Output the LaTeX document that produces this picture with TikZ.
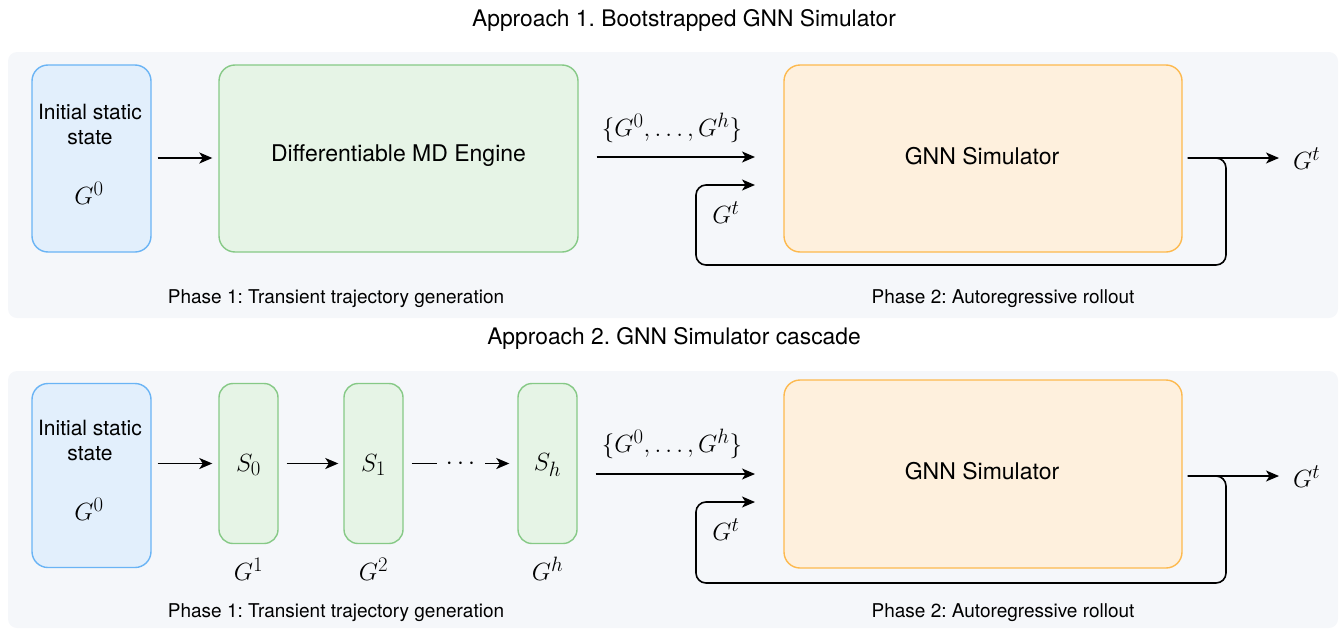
\documentclass[tikz,border=0pt]{standalone}
\usepackage{fontspec}
\setmainfont{TeX Gyre Heros}
\frenchspacing
\usetikzlibrary{arrows.meta,calc}
\definecolor{panelgray}{HTML}{F5F7FA}
\definecolor{bfill}{HTML}{E2EFFC}
\definecolor{bdraw}{HTML}{6AB4F5}
\definecolor{gfill}{HTML}{E6F4E6}
\definecolor{gdraw}{HTML}{86C986}
\definecolor{ofill}{HTML}{FEF0DD}
\definecolor{odraw}{HTML}{FDB94E}
\tikzset{
  panelbox/.style={fill=panelgray, rounded corners=9pt},
  basebox/.style={line width=1.4pt, rounded corners=16pt, inner sep=0pt},
  bluebox/.style={basebox, draw=bdraw, fill=bfill},
  greenbox/.style={basebox, draw=gdraw, fill=gfill},
  orangebox/.style={basebox, draw=odraw, fill=ofill},
  arr/.style={line width=1.6pt, -{Stealth[length=13pt,width=11pt,inset=3.5pt]}},
  loopline/.style={line width=1.6pt, rounded corners=10pt, -{Stealth[length=13pt,width=11pt,inset=3.5pt]}},
  titletxt/.style={font=\fontsize{22.8}{26}\selectfont},
  phasetxt/.style={font=\fontsize{19}{23}\selectfont},
  boxtxt/.style={font=\fontsize{23}{27}\selectfont, align=center},
  inittxt/.style={font=\fontsize{21}{25}\selectfont, align=center},
  mathtxt/.style={font=\fontsize{30.5}{33}\selectfont, inner sep=0pt},
}
\begin{document}
\begin{tikzpicture}[x=1pt,y=-1pt]
\useasboundingbox (0,0) rectangle (1340,629);
% panels
\fill[panelbox] (8,52) rectangle (1338,318);
\fill[panelbox] (8,371) rectangle (1338,628);
% titles
\node[titletxt] (t1) at (684,20) {Approach 1. Bootstrapped GNN Simulator};
\node[titletxt] (t2) at (674,338) {Approach 2. GNN Simulator cascade};

% ---------- Approach 1 ----------
\node[bluebox, minimum width=119pt, minimum height=187pt] (b1) at (91.5,158.5) {};
\node[inittxt] (b1t) at (90,124.5) {Initial static\\state};
\node[mathtxt] (b1g) at (89,193) {$G^0$};
\node[greenbox, minimum width=359pt, minimum height=187pt] (md) at (398.5,158.5) {};
\node[boxtxt] (mdt) at (398.5,156) {Differentiable MD Engine};
\node[orangebox, minimum width=398pt, minimum height=187pt] (g1) at (983,158.5) {};
\node[boxtxt] (g1t) at (982,156) {GNN Simulator};
\coordinate (in1) at (755,157);
\coordinate (fb1) at (755,185);
\coordinate (out1) at (1279,158);
\node[mathtxt, anchor=west] (o1) at (1293,159) {$G^t$};
\node[mathtxt] (set1) at (672,128) {$\{G^0,\ldots,G^h\}$};
\node[mathtxt] (gt1) at (726,213) {$G^t$};
\draw[arr] ([xshift=6pt]b1.east |- 0,158) -- ([xshift=-6pt]md.west |- 0,158);
\draw[arr] ([xshift=18pt]md.east |- in1) -- (in1);
\draw[arr] ([xshift=5pt]g1.east |- out1) -- (out1);
\draw[loopline] ([xshift=5pt]g1.east |- out1) -- (1226,158) -- (1226,265) -- (696,265) -- (696,185) -- (fb1);

% ---------- Approach 2 ----------
\node[bluebox, minimum width=119pt, minimum height=184pt] (b2) at (91.5,475.5) {};
\node[inittxt] (b2t) at (90,440.5) {Initial static\\state};
\node[mathtxt] (b2g) at (89,509) {$G^0$};
\node[greenbox, minimum width=59pt, minimum height=160pt, rounded corners=14pt] (s0) at (248.5,463.5) {};
\node[greenbox, minimum width=59pt, minimum height=160pt, rounded corners=14pt] (s1) at (373.5,463.5) {};
\node[greenbox, minimum width=59pt, minimum height=160pt, rounded corners=14pt] (sh) at (547.5,463.5) {};
\node[mathtxt] (s0t) at (248.5,465) {$S_0$};
\node[mathtxt] (s1t) at (373.5,465) {$S_1$};
\node[mathtxt] (sht) at (547.5,465) {$S_h$};
\node[mathtxt] (g1l) at (248.5,569) {$G^1$};
\node[mathtxt] (g2l) at (373.5,569) {$G^2$};
\node[mathtxt] (ghl) at (547.5,569) {$G^h$};
\node[orangebox, minimum width=398pt, minimum height=188pt] (g2) at (983,474) {};
\node[boxtxt] (g2t) at (982,471) {GNN Simulator};
\coordinate (in2) at (755,474);
\coordinate (fb2) at (755,502);
\coordinate (out2) at (1279,476);
\node[mathtxt, anchor=west] (o2) at (1293,477) {$G^t$};
\node[mathtxt] (set2) at (672,444) {$\{G^0,\ldots,G^h\}$};
\node[mathtxt] (gt2) at (726,530) {$G^t$};
\draw[arr] ([xshift=6pt]b2.east |- s0.west) -- ([xshift=-6pt]s0.west);
\draw[arr] ([xshift=8pt]s0.east) -- ([xshift=-5pt]s1.west);
\draw[arr] ([xshift=8pt]s1.east) -- node[fill=panelgray, inner sep=0pt, minimum width=48pt, minimum height=14pt, font=\fontsize{30.5}{33}\selectfont] (dots) {$\cdots$} ([xshift=-8pt]sh.west);
\draw[arr] ([xshift=18pt]sh.east |- in2) -- (in2);
\draw[arr] ([xshift=5pt]g2.east |- out2) -- (out2);
\draw[loopline] ([xshift=5pt]g2.east |- out2) -- (1226,476) -- (1226,583) -- (696,583) -- (696,502) -- (fb2);

% phase labels
\node[phasetxt] (p11) at (336,299) {Phase 1: Transient trajectory generation};
\node[phasetxt] (p12) at (1003,299) {Phase 2: Autoregressive rollout};
\node[phasetxt] (p21) at (336,613) {Phase 1: Transient trajectory generation};
\node[phasetxt] (p22) at (1003,613) {Phase 2: Autoregressive rollout};
\end{tikzpicture}
\end{document}
